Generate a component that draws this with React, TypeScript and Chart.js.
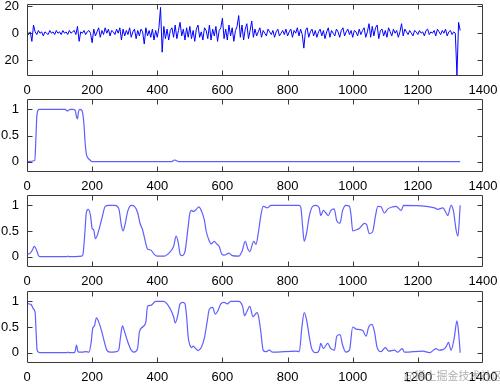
import React, { useEffect, useRef } from "react";
import { Chart, registerables } from "chart.js";

Chart.register(...registerables);

// ---------- data ----------
const X_TICKS = [0, 200, 400, 600, 800, 1000, 1200, 1400];
const NOISE_Y_TICKS = [-20, 0, 20];
const UNIT_Y_TICKS = [0, 0.5, 1];

// panel 1: raw signal, one value every NOISE_STEP samples, starting at 0
const NOISE_STEP = 5;
const NOISE_VALUES = [
  2, -1, 1, -6, 6, 1, -1, 2, 0, 1, -2, 1, 0, -1, 2, 0, 1, -1, 2, 0,
  1, -1, 2, 0, 1, -1, 2, 0, 1, 2, -1, 5, -6, 1, 0, 2, -1, 1, 2, 0,
  -7, 3, -2, 1, 4, -3, 2, -1, 4, 0, 3, -2, 2, 1, -1, 3, 0, 4, -5, 3,
  -2, 2, -1, 4, -3, 1, 3, -4, 2, -2, 3, 1, -8, 4, -2, 2, -3, 3, -5, 2,
  -3, 4, 19, -14, 5, -4, 3, -5, 2, 4, -3, 6, -4, 2, 8, -2, 3, -5, 4, -3,
  5, -4, 2, -6, 3, 6, -3, 1, -5, 4, 2, -4, 6, -5, 3, -2, 5, -6, 2, 4,
  11, -4, 3, -5, 6, -2, 4, -6, 2, 5, 13, -3, 6, -5, 3, 7, -4, 2, 9, -3,
  3, -2, 1, 4, -3, 2, 0, -2, 3, 1, -1, 2, -3, 1, 3, -2, 0, 2, -1, 3,
  -2, 1, 3, -3, 2, 0, 4, -2, 3, -1, -11, 2, 4, -3, 1, 3, -2, 2, -3, 1,
  3, -2, 2, -4, 1, 4, -3, 2, 0, -2, 3, 1, -3, 2, 4, -2, 1, 3, -1, 2,
  -3, 2, 1, -2, 3, -1, 2, 4, -3, 1, 7, -3, 5, -2, 4, 6, -4, 2, 3, -2,
  2, -3, 4, 1, -2, 3, 0, 2, -3, 1, 7, -2, 3, 1, -1, 2, 0, -2, 2, 1,
  -1, 2, 0, 1, -2, 2, 3, -1, 1, 0, 2, -2, 3, 1, -1, 2, 0, 3, -2, 1,
  2, -1, 1, 0, -31, 8, 2,
];

// panel 2
const P2_X = [0, 24, 27, 30, 33, 37, 118, 123, 127, 132, 140, 148, 152, 155, 158, 162, 167, 171, 175, 178, 182, 186, 190, 200, 445, 452, 458, 465, 1330];
const P2_Y = [0, 0.02, 0.4, 0.85, 0.97, 1, 1, 0.97, 0.98, 1, 1, 0.98, 0.86, 0.82, 0.95, 1, 0.99, 0.93, 0.7, 0.4, 0.15, 0.08, 0.05, 0, 0, 0.03, 0.02, 0, 0];

// panel 3
const P3_X = [0, 10, 18, 22, 28, 35, 40, 120, 125, 130, 168, 172, 178, 182, 188, 195, 200, 205, 210, 215, 222, 232, 240, 250, 270, 282, 290, 295, 300, 310, 320, 330, 340, 347, 355, 365, 370, 380, 390, 400, 420, 440, 450, 458, 465, 470, 475, 485, 495, 500, 505, 510, 520, 527, 535, 545, 550, 560, 565, 575, 582, 590, 598, 605, 620, 630, 650, 660, 670, 678, 684, 696, 703, 711, 718, 725, 738, 749, 836, 841, 846, 851, 858, 867, 877, 887, 897, 902, 910, 918, 925, 933, 943, 951, 961, 969, 979, 990, 995, 1000, 1010, 1020, 1036, 1043, 1051, 1061, 1070, 1077, 1087, 1097, 1108, 1123, 1133, 1149, 1156, 1226, 1251, 1261, 1277, 1287, 1292, 1302, 1309, 1318, 1323, 1330];
const P3_Y = [0.05, 0.07, 0.15, 0.2, 0.15, 0.03, 0, 0, 0.01, 0, 0.01, 0.05, 0.5, 0.85, 0.92, 0.8, 0.55, 0.52, 0.35, 0.4, 0.55, 0.8, 0.98, 1, 1, 0.93, 0.6, 0.5, 0.6, 0.9, 1, 0.98, 0.85, 0.65, 0.52, 0.25, 0.15, 0.13, 0.05, 0.01, 0.01, 0.1, 0.2, 0.4, 0.25, 0.05, 0.02, 0.1, 0.6, 0.85, 0.9, 0.88, 0.92, 0.97, 0.9, 0.7, 0.5, 0.3, 0.25, 0.3, 0.25, 0.2, 0.05, 0.03, 0.07, 0.02, 0.01, 0.1, 0.3, 0.15, 0.1, 0.3, 0.24, 0.5, 0.8, 0.98, 0.95, 1, 1, 0.95, 0.6, 0.3, 0.45, 0.8, 0.98, 1, 0.95, 0.8, 0.9, 0.85, 0.8, 0.9, 0.93, 0.7, 0.65, 0.9, 1, 0.98, 0.8, 0.5, 0.52, 0.55, 0.65, 0.62, 0.45, 0.48, 0.8, 0.98, 0.97, 0.85, 0.93, 0.97, 0.98, 0.9, 1, 0.98, 0.95, 0.92, 0.95, 0.85, 0.8, 1, 0.9, 0.5, 0.4, 1];

// panel 4
const P4_X = [0, 5, 12, 20, 25, 28, 31, 36, 40, 120, 125, 130, 145, 148, 152, 156, 160, 170, 180, 190, 197, 202, 207, 213, 220, 230, 240, 245, 255, 275, 282, 287, 293, 300, 310, 320, 328, 335, 340, 345, 355, 365, 370, 380, 395, 420, 430, 440, 450, 455, 462, 470, 478, 485, 490, 495, 500, 505, 510, 518, 525, 535, 545, 553, 560, 570, 578, 585, 595, 605, 615, 625, 650, 662, 668, 675, 684, 694, 706, 711, 718, 725, 733, 744, 754, 826, 836, 844, 851, 858, 867, 874, 887, 897, 902, 910, 923, 933, 944, 951, 961, 969, 979, 990, 1000, 1010, 1031, 1041, 1049, 1059, 1067, 1075, 1087, 1100, 1111, 1128, 1138, 1152, 1159, 1215, 1236, 1256, 1265, 1277, 1287, 1294, 1302, 1312, 1320, 1325, 1330];
const P4_Y = [0.98, 0.95, 0.94, 0.85, 0.78, 0.4, 0.05, 0.01, 0, 0, 0.01, 0, 0, 0.03, 0.15, 0.03, 0.01, 0.01, 0.02, 0.01, 0.2, 0.48, 0.52, 0.68, 0.6, 0.4, 0.15, 0.05, 0.01, 0.02, 0.06, 0.3, 0.52, 0.4, 0.2, 0.05, 0.01, 0.03, 0.1, 0.4, 0.5, 0.6, 0.9, 0.92, 1, 1, 0.95, 0.85, 0.7, 0.58, 0.7, 0.95, 0.98, 0.95, 0.7, 0.3, 0.15, 0.1, 0.13, 0.08, 0.04, 0.1, 0.3, 0.6, 0.85, 0.88, 0.75, 0.8, 0.95, 0.98, 0.95, 1, 1, 0.9, 0.72, 0.8, 0.9, 0.7, 0.78, 0.7, 0.4, 0.05, 0.02, 0.05, 0.01, 0.03, 0.02, 0.5, 0.78, 0.65, 0.3, 0.08, 0, 0.05, 0.18, 0.08, 0.18, 0.08, 0.05, 0.32, 0.35, 0.15, 0.01, 0.05, 0.5, 0.46, 0.43, 0.32, 0.5, 0.55, 0.4, 0.1, 0.02, 0.1, 0.03, 0.05, 0.01, 0.08, 0.01, 0.03, 0, 0.08, 0.05, 0.06, 0.12, 0.2, 0.05, 0.3, 0.62, 0.4, 0];

// ---------- layout ----------
const FONT = { family: "'Liberation Sans', Arial, Helvetica, sans-serif", size: 13 };

type PanelSpec = {
  top: number;
  height: number;
  xs: number[];
  ys: number[];
  yMin: number;
  yMax: number;
  yTicks: number[];
  color: string;
  width: number;
  smooth: boolean;
  absLabels: boolean;
};

const frameTicks = {
  id: "frameTicks",
  afterDraw(chart: any) {
    const { ctx, chartArea, scales } = chart;
    const { left, right, top, bottom } = chartArea;
    const L = 5;
    ctx.save();
    ctx.strokeStyle = "#3a3a3a";
    ctx.lineWidth = 1;
    ctx.beginPath();
    const l = Math.round(left) + 0.5;
    const r = Math.round(right) - 0.5;
    const t = Math.round(top) + 0.5;
    const b = Math.round(bottom) - 0.5;
    ctx.rect(l, t, r - l, b - t);
    scales.x.ticks.forEach((tk: any) => {
      const px = Math.round(scales.x.getPixelForValue(tk.value)) + 0.5;
      if (px <= l + 1 || px >= r - 1) return;
      ctx.moveTo(px, b);
      ctx.lineTo(px, b - L);
      ctx.moveTo(px, t);
      ctx.lineTo(px, t + L);
    });
    scales.y.ticks.forEach((tk: any) => {
      const py = Math.round(scales.y.getPixelForValue(tk.value)) + 0.5;
      ctx.moveTo(l, py);
      ctx.lineTo(l + L, py);
      ctx.moveTo(r, py);
      ctx.lineTo(r - L, py);
    });
    ctx.stroke();
    ctx.restore();
  },
};

function Panel({ spec }: { spec: PanelSpec }) {
  const ref = useRef<HTMLCanvasElement | null>(null);
  useEffect(() => {
    if (!ref.current) return;
    const data = spec.xs.map((x, i) => ({ x, y: spec.ys[i] }));
    const chart = new Chart(ref.current, {
      type: "line",
      data: {
        datasets: [
          {
            data,
            borderColor: spec.color,
            borderWidth: spec.width,
            pointRadius: 0,
            fill: false,
            cubicInterpolationMode: spec.smooth ? "monotone" : "default",
            tension: 0,
          },
        ],
      },
      options: {
        animation: false,
        responsive: false,
        maintainAspectRatio: false,
        events: [],
        layout: { padding: { top: 4, right: 17, left: 0, bottom: 0 } },
        plugins: { legend: { display: false }, tooltip: { enabled: false }, title: { display: false } },
        scales: {
          x: {
            type: "linear",
            min: 0,
            max: 1400,
            grid: { display: false, drawTicks: false },
            border: { display: false },
            afterBuildTicks: (s: any) => {
              s.ticks = X_TICKS.map((v) => ({ value: v }));
            },
            afterFit: (s: any) => {
              s.height = 24;
              s.paddingLeft = 0;
              s.paddingRight = 0;
            },
            ticks: {
              color: "#000",
              font: FONT,
              padding: 7,
              maxRotation: 0,
              autoSkip: false,
              callback: (v: any) => String(v),
            },
          },
          y: {
            type: "linear",
            min: spec.yMin,
            max: spec.yMax,
            grid: { display: false, drawTicks: false },
            border: { display: false },
            afterBuildTicks: (s: any) => {
              s.ticks = spec.yTicks.map((v) => ({ value: v }));
            },
            afterFit: (s: any) => {
              s.width = 27;
              s.paddingTop = 0;
              s.paddingBottom = 0;
            },
            ticks: {
              color: "#000",
              font: FONT,
              padding: 8,
              autoSkip: false,
              callback: (v: any) => String(spec.absLabels ? Math.abs(Number(v)) : Number(v)),
            },
          },
        },
      },
      plugins: [frameTicks],
    });
    return () => chart.destroy();
  }, [spec]);
  return (
    <canvas
      ref={ref}
      width={500}
      height={spec.height}
      style={{ position: "absolute", left: 0, top: spec.top, width: 500, height: spec.height }}
    />
  );
}

const NOISE_X = NOISE_VALUES.map((_, i) => i * NOISE_STEP);
const LIGHT = "rgb(95,95,255)";

const PANELS: PanelSpec[] = [
  { top: 0, height: 100, xs: NOISE_X, ys: NOISE_VALUES, yMin: -31.5, yMax: 21.5, yTicks: NOISE_Y_TICKS, color: "#0000ff", width: 1, smooth: false, absLabels: true },
  { top: 95, height: 101, xs: P2_X, ys: P2_Y, yMin: -0.2, yMax: 1.2, yTicks: UNIT_Y_TICKS, color: LIGHT, width: 1.2, smooth: true, absLabels: false },
  { top: 191, height: 100, xs: P3_X, ys: P3_Y, yMin: -0.2, yMax: 1.2, yTicks: UNIT_Y_TICKS, color: LIGHT, width: 1.2, smooth: true, absLabels: false },
  { top: 287, height: 100, xs: P4_X, ys: P4_Y, yMin: -0.2, yMax: 1.2, yTicks: UNIT_Y_TICKS, color: LIGHT, width: 1.2, smooth: true, absLabels: false },
];

export default function App() {
  return (
    <div style={{ position: "fixed", left: 0, top: 0, width: 500, height: 384, background: "#fff", overflow: "hidden" }}>
      {PANELS.map((p, i) => (
        <Panel key={i} spec={p} />
      ))}
      <span
        style={{
          position: "absolute",
          left: 404,
          top: 367,
          fontFamily: "'Noto Sans CJK SC', sans-serif",
          fontSize: 11,
          color: "rgba(150,150,150,0.75)",
          whiteSpace: "nowrap",
        }}
      >
        @稀土掘金技术社区
      </span>
    </div>
  );
}
